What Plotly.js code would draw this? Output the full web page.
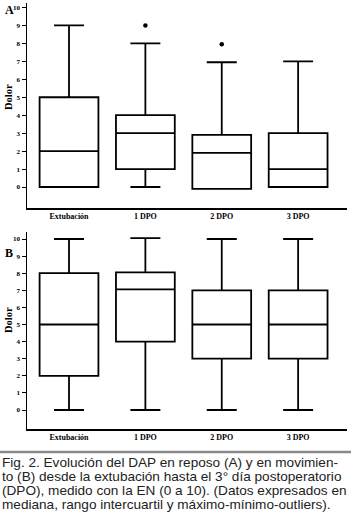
<!DOCTYPE html>
<html><head><meta charset="utf-8">
<script src="https://cdn.plot.ly/plotly-3.0.1.min.js"></script>
<style>html,body{margin:0;padding:0;background:#fff}#c{width:351px;height:522px}</style>
</head><body><div id="c"></div>
<script>
var categories = ['Extubación', '1 DPO', '2 DPO', '3 DPO'];
var yTicks = [0,1,2,3,4,5,6,7,8,9,10];
// Panel A (reposo)
var A_min = [0, 0, -0.1, 0];
var A_q1 = [0, 1, -0.1, 0];
var A_med = [2, 3, 1.9, 1];
var A_q3 = [5, 4, 2.9, 3];
var A_max = [9, 8, 6.95, 7];
var A_outX = ['1 DPO', '2 DPO'];
var A_outY = [9, 7.95];
// Panel B (movimiento)
var B_min = [0, 0, 0, 0];
var B_q1 = [2, 4, 3, 3];
var B_med = [5, 7.05, 5, 5];
var B_q3 = [8, 8.05, 7, 7];
var B_max = [10, 10.05, 10, 10];
var captionLines = [
  'Fig. 2. Evolución del DAP en reposo (A) y en movimien-',
  'to (B) desde la extubación hasta el 3° día postoperatorio',
  '(DPO), medido con la EN (0 a 10). (Datos expresados en',
  'mediana, rango intercuartil y máximo-mínimo-outliers).'
];

var W = 351, H = 522;
function py(p){ return 1 - p / H; }
var serifBold = {family: 'Liberation Serif', size: 8, color: '#000', weight: 'bold'};

function boxTrace(xa, ya, lo, q1, med, q3, hi){
  return {
    type: 'box', x: categories, xaxis: xa, yaxis: ya,
    lowerfence: lo, q1: q1, median: med, q3: q3, upperfence: hi,
    width: 0.77, whiskerwidth: 0.51,
    fillcolor: 'rgba(255,255,255,0)',
    line: {color: '#000', width: 1.8},
    hoverinfo: 'skip', showlegend: false
  };
}

var data = [
  boxTrace('x', 'y', A_min, A_q1, A_med, A_q3, A_max),
  {type: 'scatter', mode: 'markers', x: A_outX, y: A_outY, xaxis: 'x', yaxis: 'y',
   marker: {color: '#000', size: 4.5}, showlegend: false, hoverinfo: 'skip'},
  boxTrace('x2', 'y2', B_min, B_q1, B_med, B_q3, B_max)
];

var xdom = [27 / W, 347 / W];
function xAxis(anchor){
  return {
    domain: xdom, anchor: anchor, type: 'category',
    categoryorder: 'array', categoryarray: categories,
    range: [-0.55, 3.64], showline: true, linecolor: '#000', linewidth: 1.5,
    ticks: '', showgrid: false, zeroline: false,
    tickfont: serifBold, fixedrange: true
  };
}
function yAxis(anchor, dom, rng){
  return {
    domain: dom, anchor: anchor, range: rng,
    tickvals: yTicks, ticktext: yTicks.map(String),
    showline: true, linecolor: '#000', linewidth: 1.5,
    ticks: 'outside', ticklen: 4, tickwidth: 1, tickcolor: '#000',
    showgrid: false, zeroline: false,
    tickfont: {family: 'Liberation Serif', size: 7, color: '#000', weight: 'bold'},
    fixedrange: true
  };
}

function lab(text, x, y, size, angle){
  return {text: text, x: x / W, y: py(y), xref: 'paper', yref: 'paper', showarrow: false,
    xanchor: 'center', yanchor: 'middle', textangle: angle || 0,
    font: {family: 'Liberation Serif', size: size, color: '#000', weight: 'bold'}};
}
var annotations = [
  lab('A', 9, 10, 12),
  lab('B', 9, 253, 12),
  lab('Dolor', 8, 97, 10.5, -90),
  lab('Dolor', 8, 320, 10.5, -90)
];
var capY = [462, 476, 490, 504];
captionLines.forEach(function(t, i){
  annotations.push({text: t, x: 0, y: py(capY[i]), xref: 'paper', yref: 'paper',
    xanchor: 'left', yanchor: 'middle', showarrow: false,
    font: {family: 'Liberation Sans', size: 13.6, color: '#222'}});
});

var layout = {
  width: W, height: H, margin: {l: 0, r: 0, t: 0, b: 0},
  paper_bgcolor: '#fff', plot_bgcolor: '#fff', showlegend: false,
  xaxis: xAxis('y'),
  yaxis: yAxis('x', [py(208), py(3)], [-1.17, 10.25]),
  xaxis2: xAxis('y2'),
  yaxis2: yAxis('x2', [py(429), py(232)], [-1.11, 10.41]),
  annotations: annotations,
  shapes: [{type: 'line', xref: 'paper', yref: 'paper', x0: 0, x1: 1, y0: py(452), y1: py(452),
            line: {color: '#8a8a8a', width: 2.5}}]
};
Plotly.newPlot('c', data, layout, {displayModeBar: false, staticPlot: true});
</script></body></html>
